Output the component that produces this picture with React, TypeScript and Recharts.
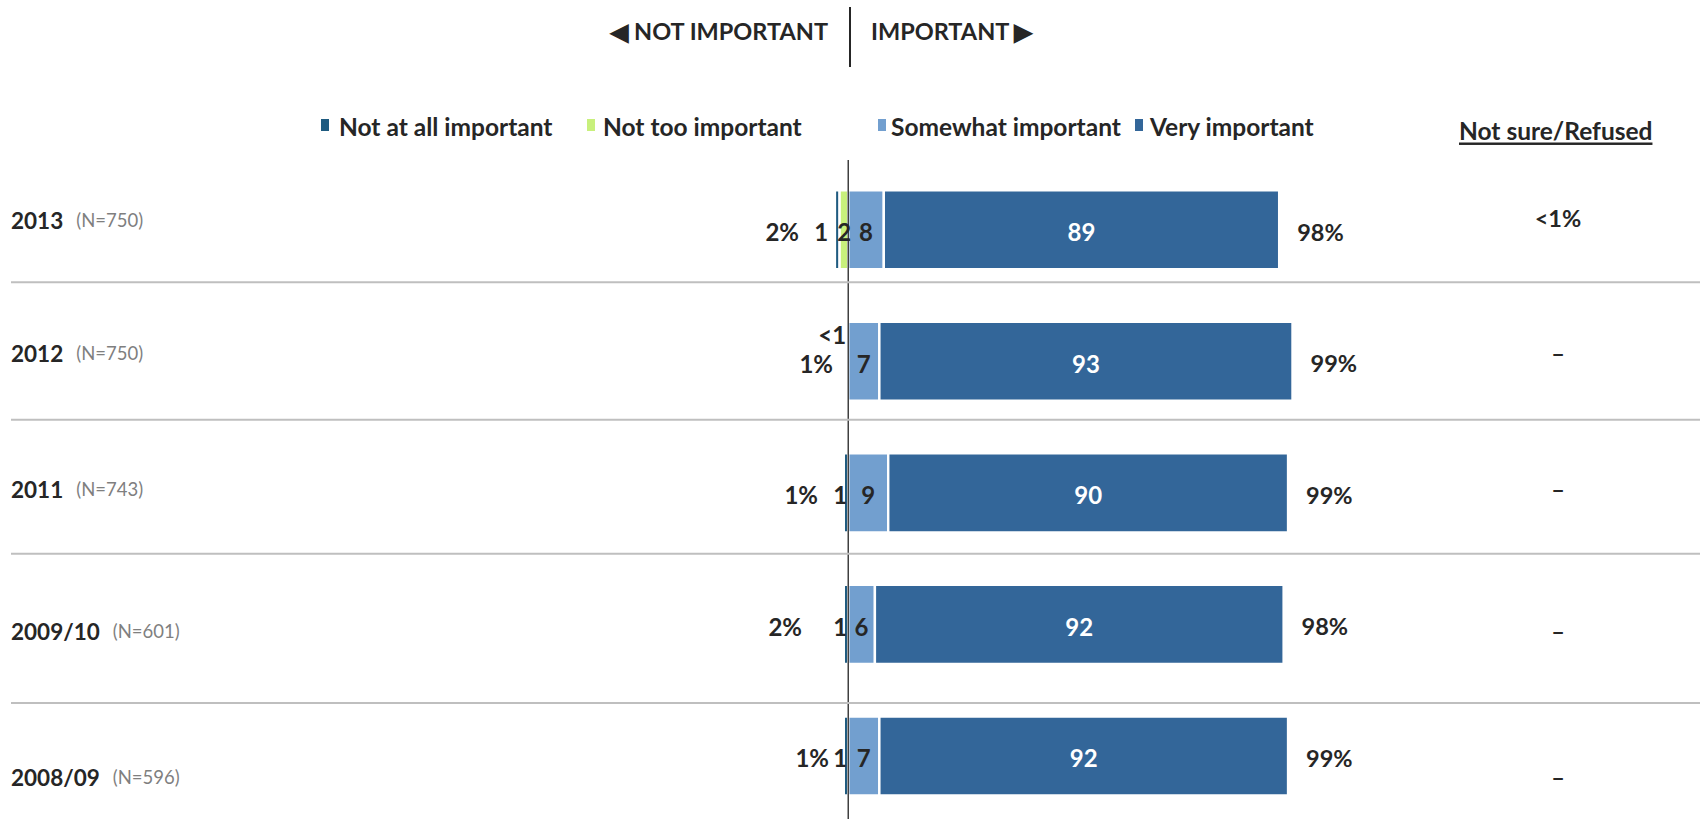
import React from 'react';
import { BarChart, Bar, XAxis, YAxis, LabelList, ReferenceLine } from 'recharts';

// ---------- data ----------
const categories = ['2013', '2012', '2011', '2009/10', '2008/09'];
const sampleSizes = ['(N=750)', '(N=750)', '(N=743)', '(N=601)', '(N=596)'];
const notAtAllImportant = [1, 0, 1, 1, 1];
const notTooImportant = [2, 0, 0, 0, 0];
const somewhatImportant = [8, 7, 9, 6, 7];
const veryImportant = [89, 93, 90, 92, 92];
const notAtAllLabels = ['1', '<1', '1', '1', '1'];
const notTooLabels = ['2', '', '', '', ''];
const notImportantTotals = ['2%', '1%', '1%', '2%', '1%'];
const importantTotals = ['98%', '99%', '99%', '98%', '99%'];
const notSureRefused = ['<1%', '–', '–', '–', '–'];

// ---------- layout / style (slide text nudges, not data) ----------
const FONT = "Lato, 'Open Sans', sans-serif";
const TEXT = '#262626';
const C_NOT_AT_ALL = '#1f5b80';
const C_NOT_TOO = '#c8f07c';
const C_SOMEWHAT = '#729fcf';
const C_VERY = '#336699';
const rowLabelDy = [-10, -9, -4, 6, 21];
const INNER_DY = 2;
const leftTotalDx = [-66, -32, -47, -63, -36];
const smallLabelDx = [-27, -16, -8, -8, -8];
const smallLabelDy = [0, -29, 0, 0, 0];
const notSureDy = [-12, -8, -4, 7, 21];
const separatorsY = [282.3, 419.8, 553.7, 702.9];

const data = categories.map((c, i) => ({
  cat: c,
  notAtAll: -notAtAllImportant[i],
  notToo: -notTooImportant[i],
  somewhat: somewhatImportant[i],
  very: veryImportant[i],
}));

const getBox = (p: any) => {
  const vb = p.viewBox || p;
  return { x: Number(vb.x), y: Number(vb.y), width: Number(vb.width), height: Number(vb.height) };
};

const RowTick = (props: any) => {
  const { y, payload } = props;
  const i = categories.indexOf(payload.value);
  return (
    <text x={11} y={y + rowLabelDy[i]} dominantBaseline="central" fontFamily={FONT}>
      <tspan fontWeight={700} fontSize={22.5} fill={TEXT}>{payload.value}</tspan>
      <tspan dx={13} fontSize={18.5} fill="#7f7f7f">{sampleSizes[i]}</tspan>
    </text>
  );
};

const SomewhatLabel = (props: any) => {
  const { x, y, width, height } = getBox(props);
  const i = props.index;
  const cy = y + height / 2 + INNER_DY;
  const common = { fontFamily: FONT, fontWeight: 700, fontSize: 24, fill: TEXT, dominantBaseline: 'central' as any };
  return (
    <g>
      <text x={x + width / 2} y={cy} textAnchor="middle" {...common}>{somewhatImportant[i]}</text>
      <text x={x + leftTotalDx[i]} y={cy} textAnchor="middle" {...common}>{notImportantTotals[i]}</text>
      <text x={x + smallLabelDx[i]} y={cy + smallLabelDy[i]} textAnchor="middle" {...common}>{notAtAllLabels[i]}</text>
      {notTooLabels[i] ? (
        <text x={x - 4} y={cy} textAnchor="middle" {...common}>{notTooLabels[i]}</text>
      ) : null}
    </g>
  );
};

const VeryLabel = (props: any) => {
  const { x, y, width, height } = getBox(props);
  const i = props.index;
  const cy = y + height / 2;
  return (
    <g fontFamily={FONT} fontWeight={700} fontSize={23.5}>
      <text x={x + width / 2} y={cy + INNER_DY} textAnchor="middle" dominantBaseline="central" fill="#ffffff" fontSize={24}>{veryImportant[i]}</text>
      <text x={x + width + 18} y={cy + 2} textAnchor="start" dominantBaseline="central" fill={TEXT}>{importantTotals[i]}</text>
      <text x={1558} y={cy + notSureDy[i]} textAnchor="middle" dominantBaseline="central" fill={TEXT}>{notSureRefused[i]}</text>
    </g>
  );
};

const legendItems = [
  { label: 'Not at all important', color: C_NOT_AT_ALL, mx: 321, tx: 339 },
  { label: 'Not too important', color: C_NOT_TOO, mx: 587, tx: 603 },
  { label: 'Somewhat important', color: C_SOMEWHAT, mx: 878, tx: 891 },
  { label: 'Very important', color: C_VERY, mx: 1135, tx: 1150 },
];

export default function App() {
  return (
    <div style={{ position: 'absolute', left: 0, top: 0, width: 1700, height: 819, background: '#fff', overflow: 'hidden' }}>
      <BarChart
        width={1700}
        height={822}
        data={data}
        layout="vertical"
        stackOffset="sign"
        margin={{ top: 164.25, right: 407.5, bottom: 0, left: 0 }}
        barSize={79}
      >
        <XAxis type="number" domain={[-100, 100]} hide />
        <YAxis type="category" dataKey="cat" width={404} axisLine={false} tickLine={false} tick={<RowTick />} />
        <Bar dataKey="notToo" stackId="a" fill={C_NOT_TOO} stroke="#ffffff" strokeWidth={2.4} isAnimationActive={false} />
        <Bar dataKey="notAtAll" stackId="a" fill={C_NOT_AT_ALL} stroke="#ffffff" strokeWidth={2.4} isAnimationActive={false} />
        <Bar dataKey="somewhat" stackId="a" fill={C_SOMEWHAT} stroke="#ffffff" strokeWidth={2.4} isAnimationActive={false}>
          <LabelList dataKey="somewhat" content={<SomewhatLabel />} />
        </Bar>
        <Bar dataKey="very" stackId="a" fill={C_VERY} stroke="#ffffff" strokeWidth={2.4} isAnimationActive={false}>
          <LabelList dataKey="very" content={<VeryLabel />} />
        </Bar>
        <ReferenceLine
          x={0}
          ifOverflow="visible"
          shape={(p: any) => <line x1={p.x1} x2={p.x2} y1={160} y2={822} stroke="#404040" strokeWidth={1.5} />}
        />
      </BarChart>
      <svg width={1700} height={819} style={{ position: 'absolute', left: 0, top: 0, pointerEvents: 'none' }}>
        {separatorsY.map((yy, k) => (
          <line key={k} x1={11} y1={yy} x2={1700} y2={yy} stroke="#bfbfbf" strokeWidth={2} />
        ))}
        <line x1={850} y1={7} x2={850} y2={67} stroke="#262626" strokeWidth={2} />
        <text x={828} y={31} textAnchor="end" dominantBaseline="central" fontFamily={FONT} fontWeight={700} fontSize={23.5} fill={TEXT}>◀ NOT IMPORTANT</text>
        <text x={871} y={31} textAnchor="start" dominantBaseline="central" fontFamily={FONT} fontWeight={700} fontSize={23.5} fill={TEXT}>IMPORTANT ▶</text>
        {legendItems.map((it) => (
          <g key={it.label}>
            <rect x={it.mx} y={119} width={8} height={12} fill={it.color} />
            <text x={it.tx} y={126} dominantBaseline="central" fontFamily={FONT} fontWeight={700} fontSize={24.5} fill={TEXT}>{it.label}</text>
          </g>
        ))}
        <text x={1459} y={130} dominantBaseline="central" fontFamily={FONT} fontWeight={700} fontSize={24.5} fill={TEXT} textDecoration="underline">Not sure/Refused</text>
      </svg>
    </div>
  );
}
